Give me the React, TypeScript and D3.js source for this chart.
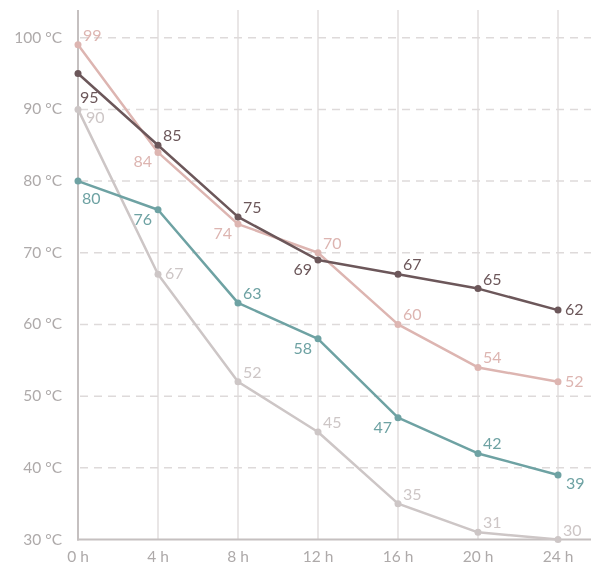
import React from "react";
import * as d3 from "d3";

const hours = [0, 4, 8, 12, 16, 20, 24];
const yTicks = [30, 40, 50, 60, 70, 80, 90, 100];
const seriesDark = [95, 85, 75, 69, 67, 65, 62];
const seriesPink = [99, 84, 74, 70, 60, 54, 52];
const seriesTeal = [80, 76, 63, 58, 47, 42, 39];
const seriesGray = [90, 67, 52, 45, 35, 31, 30];

// label placement: ra = right-above, lb = left-below, r = right, rb = right-below
const placeDark = ["bfar", "ra", "ra", "lb", "ra", "ra", "r"];
const placePink = ["ra", "lb", "lb", "ra", "ra", "ra", "r"];
const placeTeal = ["bfar2", "lb", "ra", "lb", "lb", "ra", "rb"];
const placeGray = ["rb", "r", "ra", "ra", "ra", "ra", "ra"];

const W = 591;
const H = 566;
const left = 78;
const top = 10;
const bottom = 539.5;
const right = 591;

export default function App() {
  const x = d3.scaleLinear().domain([0, 24]).range([left, 558]);
  const y = d3.scaleLinear().domain([30, 100]).range([bottom, 37.7]);
  const line = d3
    .line<number>()
    .x((_, i) => x(hours[i]))
    .y((d) => y(d));

  const series = [
    { data: seriesGray, place: placeGray, color: "#cdc6c6" },
    { data: seriesTeal, place: placeTeal, color: "#6ea2a3" },
    { data: seriesPink, place: placePink, color: "#ddb5b1" },
    { data: seriesDark, place: placeDark, color: "#6c575a" },
  ];

  const labelPos = (p: string, px: number, py: number) => {
    switch (p) {
      case "ra":
        return { x: px + 5, y: py - 4, anchor: "start" };
      case "lb":
        return { x: px - 6, y: py + 15, anchor: "end" };
      case "r":
        return { x: px + 7, y: py + 5, anchor: "start" };
      case "rb":
        return { x: px + 8, y: py + 14, anchor: "start" };
      case "bfar":
        return { x: px + 2, y: py + 29, anchor: "start" };
      case "bfar2":
        return { x: px + 4, y: py + 23, anchor: "start" };
      default:
        return { x: px + 5, y: py - 4, anchor: "start" };
    }
  };

  const font = "Lato, 'Open Sans', sans-serif";

  return (
    <div style={{ position: "fixed", left: 0, top: 0 }}>
      <svg width={W} height={H} style={{ display: "block" }} fontFamily={font}>
        {hours.slice(1).map((h) => (
          <line key={"vg" + h} x1={x(h)} x2={x(h)} y1={top} y2={bottom} stroke="#e2dede" strokeWidth={1.5} />
        ))}
        {yTicks.slice(1).map((t) => (
          <line
            key={"hg" + t}
            x1={left + 2}
            x2={right}
            y1={y(t)}
            y2={y(t)}
            stroke="#dedada"
            strokeWidth={1.5}
            strokeDasharray="8,6"
          />
        ))}
        <line x1={left} x2={left} y1={top} y2={bottom + 1} stroke="#c5c0c0" strokeWidth={2} />
        <line x1={left - 1} x2={right} y1={bottom} y2={bottom} stroke="#c5c0c0" strokeWidth={2} />
        {yTicks.map((t) => (
          <text key={"yt" + t} x={62} y={y(t) + 5} textAnchor="end" fontSize={15.5} fill="#aeaaaa">
            {t} °C
          </text>
        ))}
        {hours.map((h) => (
          <text key={"xt" + h} x={x(h)} y={562} textAnchor="middle" fontSize={15.5} fill="#aeaaaa">
            {h} h
          </text>
        ))}
        {series.map((s, si) => (
          <g key={"s" + si}>
            <path d={line(s.data) || ""} fill="none" stroke={s.color} strokeWidth={2.5} strokeLinejoin="round" />
            {s.data.map((v, i) => (
              <circle key={"c" + i} cx={x(hours[i])} cy={y(v)} r={3.5} fill={s.color} />
            ))}
          </g>
        ))}
        {series.map((s, si) => (
          <g key={"l" + si}>
            {s.data.map((v, i) => {
              const p = labelPos(s.place[i], x(hours[i]), y(v));
              return (
                <text key={"t" + i} x={p.x} y={p.y} textAnchor={p.anchor as any} fontSize={16} fill={s.color}>
                  {v}
                </text>
              );
            })}
          </g>
        ))}
      </svg>
    </div>
  );
}
